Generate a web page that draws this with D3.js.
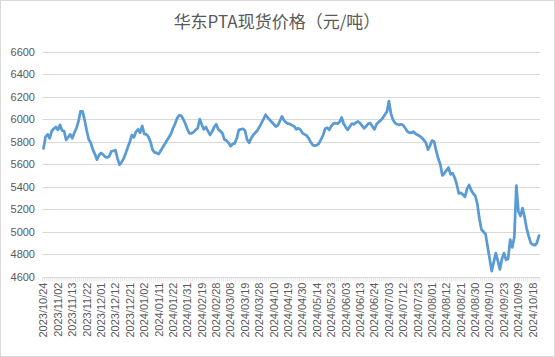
<!DOCTYPE html>
<html><head><meta charset="utf-8">
<script src="https://cdn.jsdelivr.net/npm/d3@7/dist/d3.min.js"></script>
<style>body{margin:0;background:#fff}svg{display:block}</style>
</head><body>
<script>
const title = "华东PTA现货价格（元/吨）";
const months = [
  ["2023/10", ["24","25","26","27","30","31"]],
  ["2023/11", ["01","02","03","06","07","08","09","10","13","14","15","16","17","20","21","22","23","24","27","28","29","30"]],
  ["2023/12", ["01","04","05","06","07","08","11","12","13","14","15","18","19","20","21","22","25","26","27","28","29"]],
  ["2024/01", ["02","03","04","05","08","09","10","11","12","15","16","17","18","19","22","23","24","25","26","29","30","31"]],
  ["2024/02", ["01","02","05","06","07","08","19","20","21","22","23","26","27","28","29"]],
  ["2024/03", ["01","04","05","06","07","08","11","12","13","14","15","18","19","20","21","22","25","26","27","28","29"]],
  ["2024/04", ["01","02","03","08","09","10","11","12","15","16","17","18","19","22","23","24","25","26","29","30"]],
  ["2024/05", ["06","07","08","09","10","13","14","15","16","17","20","21","22","23","24","27","28","29","30","31"]],
  ["2024/06", ["03","04","05","06","07","11","12","13","14","17","18","19","20","21","24","25","26","27","28"]],
  ["2024/07", ["01","02","03","04","05","08","09","10","11","12","15","16","17","18","19","22","23","24","25","26","29","30","31"]],
  ["2024/08", ["01","02","05","06","07","08","09","12","13","14","15","16","19","20","21","22","23","26","27","28","29","30"]],
  ["2024/09", ["02","03","04","05","06","09","10","11","12","13","18","19","20","23","24","25","26","27","30"]],
  ["2024/10", ["08","09","10","11","14","15","16","17","18","21","22","23"]]
];
const categories = months.flatMap(([m, days]) => days.map(d => m + "/" + d));
const prices = [
  5740,5845,5865,5830,5895,5915,5930,5905,5950,5900,
  5895,5815,5840,5865,5830,5880,5920,5980,6070,6070,
  5990,5900,5820,5790,5730,5690,5640,5680,5700,5685,
  5665,5660,5670,5715,5718,5725,5650,5595,5620,5650,
  5700,5750,5800,5860,5840,5890,5910,5880,5940,5870,
  5865,5845,5800,5730,5705,5700,5690,5720,5750,5780,
  5810,5840,5870,5920,5960,6010,6035,6030,6000,5960,
  5910,5875,5875,5885,5905,5920,6000,5950,5910,5930,
  5895,5860,5890,5930,5955,5910,5895,5875,5820,5810,
  5790,5760,5780,5785,5830,5905,5910,5915,5900,5820,
  5790,5830,5860,5880,5900,5930,5965,6000,6040,6015,
  5995,5975,5955,5935,5945,5985,6025,5990,5970,5960,
  5955,5945,5935,5910,5920,5905,5875,5865,5855,5830,
  5795,5770,5765,5770,5785,5820,5860,5915,5925,5905,
  5940,5960,5965,5960,5975,6015,5960,5930,5905,5935,
  5960,5955,5970,5980,5965,5940,5920,5940,5960,5965,
  5935,5910,5955,5975,5990,6010,6040,6065,6160,6050,
  5995,5965,5955,5950,5955,5945,5920,5890,5880,5880,
  5890,5870,5860,5850,5835,5815,5790,5730,5765,5810,
  5800,5720,5650,5600,5500,5520,5545,5570,5510,5520,
  5480,5420,5340,5345,5330,5310,5380,5415,5370,5340,
  5320,5250,5120,5020,5000,4980,4870,4760,4650,4730,
  4810,4740,4665,4760,4810,4750,4760,4930,4860,4950,
  5410,5180,5140,5210,5130,5030,4960,4900,4885,4880,4900,4965
];
const yTicks = [4600,4800,5000,5200,5400,5600,5800,6000,6200,6400,6600];
const xTickLabels = ["2023/10/24","2023/11/02","2023/11/13","2023/11/22","2023/12/01","2023/12/12","2023/12/21",
  "2024/01/02","2024/01/11","2024/01/22","2024/01/31","2024/02/19","2024/02/28","2024/03/08","2024/03/19",
  "2024/03/28","2024/04/10","2024/04/19","2024/04/30","2024/05/14","2024/05/23","2024/06/03","2024/06/13",
  "2024/06/24","2024/07/03","2024/07/12","2024/07/23","2024/08/01","2024/08/12","2024/08/21","2024/08/30",
  "2024/09/10","2024/09/23","2024/10/09","2024/10/18"];

const W = 555, H = 357;
const m = {left: 42.5, right: 540, top: 51.7, bottom: 276.7};
const svg = d3.select("body").append("svg").attr("width", W).attr("height", H);
svg.append("rect").attr("x",0.5).attr("y",0.5).attr("width",W-1).attr("height",H-1)
  .attr("fill","#fff").attr("stroke","#d9d9d9");

const x = d3.scaleBand().domain(categories).range([m.left, m.right]).padding(0);
const y = d3.scaleLinear().domain([4600, 6600]).range([m.bottom, m.top]);
const cx = d => x(d) + x.bandwidth()/2;

// gridlines
svg.append("g").selectAll("line").data(yTicks).join("line")
  .attr("x1", m.left).attr("x2", m.right)
  .attr("y1", d => Math.round(y(d)) + 0.5).attr("y2", d => Math.round(y(d)) + 0.5)
  .attr("stroke", "#d9d9d9").attr("stroke-width", 1);

// y labels
svg.append("g").selectAll("text").data(yTicks).join("text")
  .attr("x", 35).attr("y", d => y(d)).attr("dy", "0.35em")
  .attr("text-anchor", "end").attr("font-family", "Liberation Sans, Arial, sans-serif")
  .attr("font-size", 11).attr("fill", "#595959").text(d => d);

// x minor ticks
const yb = Math.round(y(4600)) + 0.5;
svg.append("g").selectAll("line").data(categories.concat([null])).join("line")
  .attr("x1", (d,i) => i < categories.length ? x(d) : m.right)
  .attr("x2", (d,i) => i < categories.length ? x(d) : m.right)
  .attr("y1", yb).attr("y2", yb + 4)
  .attr("stroke", "#d9d9d9").attr("stroke-width", 0.6);

// x labels
svg.append("g").selectAll("text").data(xTickLabels).join("text")
  .attr("transform", d => `translate(${cx(d)},${yb + 5}) rotate(-90)`)
  .attr("dy", "0.35em").attr("text-anchor", "end")
  .attr("font-family", "Liberation Sans, Arial, sans-serif")
  .attr("font-size", 11).attr("fill", "#595959").text(d => d);

// line
const line = d3.line().x((d,i) => cx(categories[i])).y(d => y(d));
svg.append("path").datum(prices).attr("d", line)
  .attr("fill", "none").attr("stroke", "#5b9bd5").attr("stroke-width", 2.75)
  .attr("stroke-linejoin", "round").attr("stroke-linecap", "round");

// title
svg.append("text").attr("x", 277).attr("y", 28).attr("text-anchor", "middle")
  .attr("font-family", "Noto Sans CJK SC, sans-serif").attr("font-size", 17)
  .attr("fill", "#595959").text(title);
</script>
</body></html>
